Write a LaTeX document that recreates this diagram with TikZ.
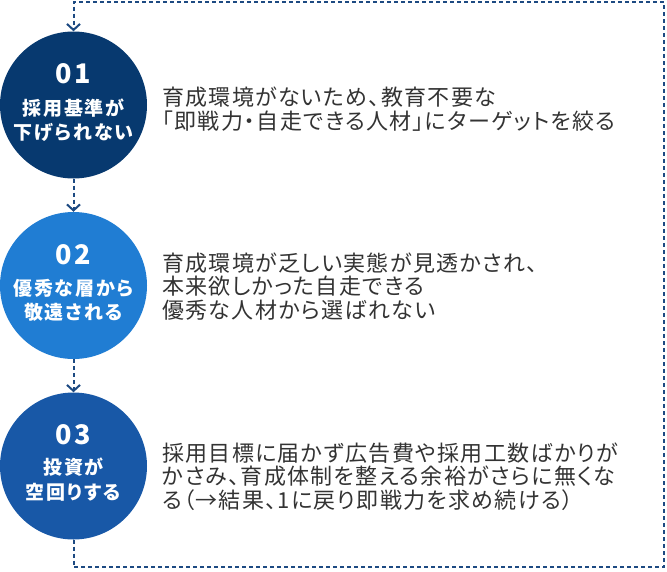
\documentclass[tikz,border=0pt]{standalone}
\usepackage{fontspec}
\usetikzlibrary{arrows.meta}
\newfontfamily\jp{Noto Sans CJK JP}[LetterSpace=6,RawFeature=+palt]
\newfontfamily\jplab{Noto Sans CJK JP}[LetterSpace=10,RawFeature=+palt]
\newfontfamily\jpnum{Noto Sans CJK JP}[LetterSpace=10]
\definecolor{cone}{HTML}{07396F}
\definecolor{ctwo}{HTML}{207DD3}
\definecolor{cthree}{HTML}{1858A7}
\definecolor{dashc}{HTML}{1D4A82}
\definecolor{txt}{HTML}{333333}
\tikzset{
  circ/.style={circle, minimum size=147pt, inner sep=0pt, draw=none},
  numtxt/.style={text=white, inner sep=0pt, font={\jpnum\bfseries\fontsize{27pt}{30pt}\selectfont}},
  labtxt/.style={text=white, inner sep=0pt, align=center, font={\jplab\bfseries\fontsize{19pt}{24.5pt}\selectfont}},
  desctxt/.style={text=txt, inner sep=0pt, align=left, anchor=west, font={\jp\fontsize{22pt}{23.5pt}\selectfont}},
  dl/.style={draw=dashc, line width=2pt, dash pattern=on 4pt off 3pt},
  tipc/.style={-{Straight Barb[length=6pt,width=13pt,line width=2pt]}}
}
\begin{document}
\begin{tikzpicture}[x=1pt,y=-1pt]
\useasboundingbox (0,0) rectangle (667,571);
\node[circ, fill=cone] (c1) at (73.5,105) {};
\node[circ, fill=ctwo] (c2) at (73.5,285.5) {};
\node[circ, fill=cthree] (c3) at (73.5,466) {};
\coordinate (b1) at (73.5,567);
\coordinate (b2) at (664,567);
\coordinate (b3) at (664,2);
\coordinate (b4) at (73.5,2);
\draw[dl, tipc] (c1.south) -- (c2.north);
\draw[dl, tipc] (c2.south) -- (c3.north);
\draw[dl, tipc] (c3.south) -- (b1) -- (b2) -- (b3) -- (b4) -- (c1.north);
\node[numtxt] (n1) at (73.5,74) {01};
\node[labtxt] (l1) at (73.5,120) {採用基準が\\下げられない};
\node[numtxt] (n2) at (73.5,255) {02};
\node[labtxt] (l2) at (73.5,300.5) {優秀な層から\\敬遠される};
\node[numtxt] (n3) at (73.5,435) {03};
\node[labtxt] (l3) at (73.5,479.5) {投資が\\空回りする};
\node[desctxt] (t1) at (162,109) {育成環境がないため、教育不要な\\「即戦力・自走できる人材」にターゲットを絞る};
\node[desctxt] (t2) at (162,286.5) {育成環境が乏しい実態が見透かされ、\\本来欲しかった自走できる\\優秀な人材から選ばれない};
\node[desctxt] (t3) at (162,476.5) {採用目標に届かず広告費や採用工数ばかりが\\かさみ、育成体制を整える余裕がさらに無くな\\る（→結果、1に戻り即戦力を求め続ける）};
\end{tikzpicture}
\end{document}
